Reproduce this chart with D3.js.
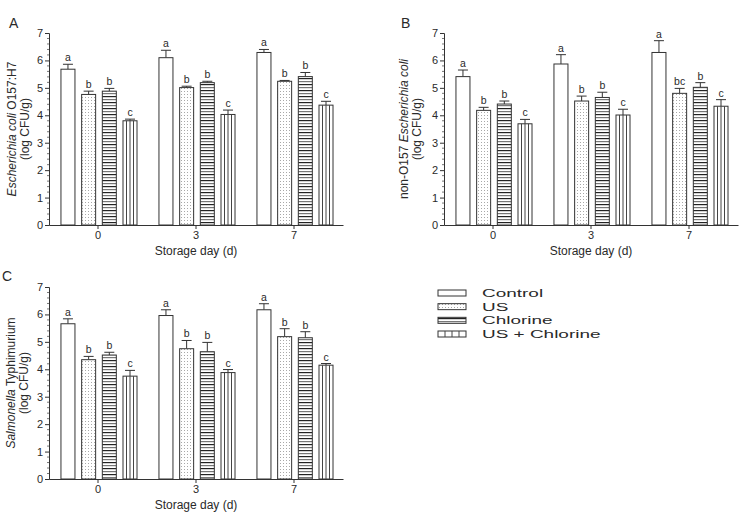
<!DOCTYPE html>
<html>
<head>
<meta charset="utf-8">
<script src="https://cdn.jsdelivr.net/npm/d3@7"></script>
<style>
  body { margin: 0; background: #fff; }
  svg { display: block; font-family: "Liberation Sans", Arial, sans-serif; }
  text { fill: #2a2a2a; }
</style>
</head>
<body>
<svg id="chart" width="739" height="529"></svg>
<script>
// ---- Data ----
const days = ["0", "3", "7"];
const treatments = ["Control", "US", "Chlorine", "US + Chlorine"];
const yTicks = [0, 1, 2, 3, 4, 5, 6, 7];

// rows = treatments, columns = days
const meansA = [
  [5.68, 6.10, 6.29],
  [4.76, 5.01, 5.24],
  [4.88, 5.19, 5.41],
  [3.80, 4.03, 4.37]
];
const errA = [
  [0.18, 0.27, 0.11],
  [0.12, 0.05, 0.03],
  [0.10, 0.05, 0.15],
  [0.06, 0.16, 0.14]
];
const lettersA = [["a","a","a"],["b","b","b"],["b","b","b"],["c","c","c"]];

const meansB = [
  [5.41, 5.87, 6.29],
  [4.18, 4.52, 4.80],
  [4.41, 4.65, 5.02],
  [3.69, 4.01, 4.33]
];
const errB = [
  [0.24, 0.34, 0.43],
  [0.11, 0.18, 0.18],
  [0.11, 0.19, 0.17],
  [0.16, 0.21, 0.24]
];
const lettersB = [["a","a","a"],["b","b","bc"],["b","b","b"],["c","c","c"]];

const meansC = [
  [5.66, 5.96, 6.17],
  [4.35, 4.75, 5.19],
  [4.52, 4.64, 5.15],
  [3.75, 3.88, 4.15]
];
const errC = [
  [0.18, 0.21, 0.22],
  [0.12, 0.30, 0.29],
  [0.10, 0.34, 0.22],
  [0.21, 0.11, 0.06]
];
const lettersC = [["a","a","a"],["b","b","b"],["b","b","b"],["c","c","c"]];

// ---- Setup ----
const svg = d3.select("#chart");
const defs = svg.append("defs");

// dotted pattern (US)
const pDots = defs.append("pattern").attr("id", "dots")
  .attr("patternUnits", "userSpaceOnUse").attr("width", 3).attr("height", 3);
pDots.append("rect").attr("width", 3).attr("height", 3).attr("fill", "#fff");
pDots.append("rect").attr("x", 1).attr("y", 1).attr("width", 1).attr("height", 1).attr("fill", "#a8a8a8");

// horizontal lines (Chlorine)
const pH = defs.append("pattern").attr("id", "hlines")
  .attr("patternUnits", "userSpaceOnUse").attr("width", 6).attr("height", 6);
pH.append("rect").attr("width", 6).attr("height", 6).attr("fill", "#fff");
pH.append("rect").attr("y", 0).attr("width", 6).attr("height", 1.2).attr("fill", "#222");
pH.append("rect").attr("y", 3).attr("width", 6).attr("height", 1.2).attr("fill", "#777");

const fills = ["#fff", "url(#dots)", "url(#hlines)", "#fff"];

function drawPanel(cfg) {
  const { left, top, width, height, means, errs, letters, label, labelX, labelY, titleLines, titleX } = cfg;
  const g = svg.append("g");

  const y = d3.scaleLinear().domain([0, 7]).range([top + height, top]);
  const x0 = d3.scaleBand().domain(days).range([left, left + width]);
  const gw = x0.bandwidth();
  const x1 = d3.scaleBand().domain(treatments)
    .range([gw * 0.122, gw * 0.898]).paddingInner(0.323).paddingOuter(0);
  const bw = x1.bandwidth();

  // bars
  treatments.forEach((t, ti) => {
    days.forEach((d, di) => {
      const v = means[ti][di];
      const e = errs[ti][di];
      const bx = x0(d) + x1(t);
      const cx = bx + bw / 2;
      // error bar
      g.append("line").attr("x1", cx).attr("x2", cx)
        .attr("y1", y(v)).attr("y2", y(v + e))
        .attr("stroke", "#333").attr("stroke-width", 1);
      g.append("line").attr("x1", cx - 5).attr("x2", cx + 5)
        .attr("y1", y(v + e)).attr("y2", y(v + e))
        .attr("stroke", "#333").attr("stroke-width", 1);
      // bar
      g.append("rect").attr("x", bx).attr("y", y(v))
        .attr("width", bw).attr("height", y(0) - y(v))
        .attr("fill", fills[ti]).attr("stroke", "#333").attr("stroke-width", 1);
      if (ti === 3) {
        [1, 2, 3].forEach(k => {
          g.append("line").attr("x1", bx + k * bw / 4).attr("x2", bx + k * bw / 4)
            .attr("y1", y(v)).attr("y2", y(0))
            .attr("stroke", "#444").attr("stroke-width", 1);
        });
      }
      // letter
      g.append("text").attr("x", cx).attr("y", y(v + e) - 3)
        .attr("text-anchor", "middle").attr("font-size", 10.5)
        .text(letters[ti][di]);
    });
  });

  // y axis
  const yAxis = d3.axisLeft(y).tickValues(yTicks).tickSize(4).tickPadding(2).tickFormat(d3.format("d"));
  const ya = g.append("g").attr("transform", `translate(${left},0)`).call(yAxis);
  ya.selectAll("text").attr("font-size", 11).style("fill", "#2a2a2a");
  ya.selectAll("line, path").attr("stroke", "#333");
  // minor ticks
  const minor = d3.range(0, 7.001, 0.2).filter(v => Math.abs(v - Math.round(v)) > 0.01);
  g.selectAll(null).data(minor).enter().append("line")
    .attr("x1", left - 2).attr("x2", left)
    .attr("y1", d => y(d)).attr("y2", d => y(d))
    .attr("stroke", "#555").attr("stroke-width", 0.8);

  // x axis
  const xAxis = d3.axisBottom(x0).tickSize(4).tickPadding(2).tickSizeOuter(0);
  const xa = g.append("g").attr("transform", `translate(0,${top + height})`).call(xAxis);
  xa.selectAll("text").attr("font-size", 11).style("fill", "#2a2a2a");
  xa.selectAll("line, path").attr("stroke", "#333");

  // x title
  g.append("text").attr("x", left + width / 2).attr("y", top + height + 30)
    .attr("text-anchor", "middle").attr("font-size", 12).text("Storage day (d)");

  // y title (two lines)
  const cy = top + height / 2;
  titleLines.forEach((parts, i) => {
    const t = g.append("text")
      .attr("transform", `translate(${titleX + i * 13},${cy}) rotate(-90)`)
      .attr("text-anchor", "middle").attr("font-size", 12);
    parts.forEach(p => {
      t.append("tspan").attr("font-style", p.i ? "italic" : "normal").text(p.t);
    });
  });

  // panel label
  g.append("text").attr("x", labelX).attr("y", labelY)
    .attr("font-size", 14).text(label);
}

drawPanel({
  left: 49, top: 33, width: 294, height: 192,
  means: meansA, errs: errA, letters: lettersA,
  label: "A", labelX: 9, labelY: 28, titleX: 16,
  titleLines: [
    [{ t: "Escherichia coli", i: true }, { t: " O157:H7" }],
    [{ t: "(log CFU/g)" }]
  ]
});

drawPanel({
  left: 444, top: 33, width: 294, height: 192,
  means: meansB, errs: errB, letters: lettersB,
  label: "B", labelX: 401, labelY: 28, titleX: 408,
  titleLines: [
    [{ t: "non-O157 " }, { t: "Escherichia coli", i: true }],
    [{ t: "(log CFU/g)" }]
  ]
});

drawPanel({
  left: 49, top: 287, width: 294, height: 192,
  means: meansC, errs: errC, letters: lettersC,
  label: "C", labelX: 2, labelY: 281, titleX: 15,
  titleLines: [
    [{ t: "Salmonella", i: true }, { t: " Typhimurium" }],
    [{ t: "(log CFU/g)" }]
  ]
});

// ---- Legend ----
const legend = svg.append("g");
const legendY = d3.scalePoint().domain(treatments).range([293, 334]);
treatments.forEach((t, i) => {
  const ly = legendY(t);
  legend.append("rect").attr("x", 438).attr("y", ly - 3).attr("width", 28).attr("height", 6)
    .attr("fill", fills[i]).attr("stroke", "#333").attr("stroke-width", 1);
  if (i === 3) {
    [1, 2, 3].forEach(k => {
      legend.append("line").attr("x1", 438 + k * 7).attr("x2", 438 + k * 7)
        .attr("y1", ly - 3).attr("y2", ly + 3).attr("stroke", "#444");
    });
  }
  legend.append("text")
    .attr("transform", `translate(482,${ly + 4}) scale(1.65,1)`)
    .attr("font-size", 11.5).text(t);
});
</script>
</body>
</html>
